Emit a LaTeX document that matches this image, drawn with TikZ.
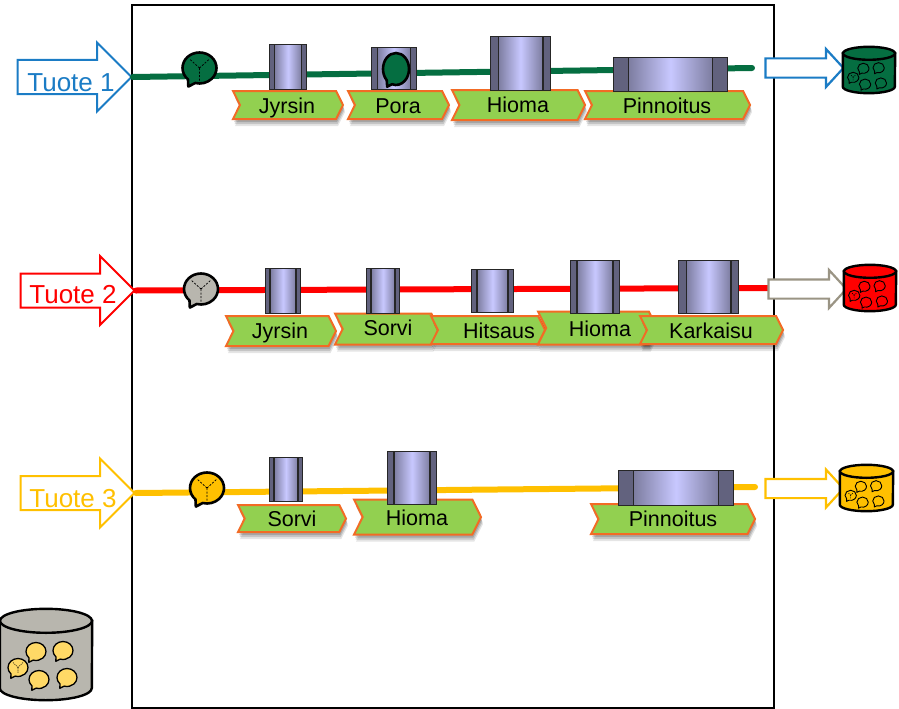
\documentclass[tikz,border=0pt]{standalone}
\usepackage{fontspec}
\setmainfont{Liberation Sans}
\usetikzlibrary{shapes.arrows,shapes.symbols,shapes.callouts,shadows,calc}
\definecolor{tgreen}{HTML}{056E41}
\definecolor{tred}{HTML}{FF0000}
\definecolor{tamber}{HTML}{FFC000}
\definecolor{tblue}{HTML}{1B7CC5}
\definecolor{tgrey}{HTML}{B8B6AE}
\definecolor{tbrown}{HTML}{9A9484}
\definecolor{bubbley}{HTML}{FFD966}
\definecolor{barcol}{HTML}{62627E}
\definecolor{bodycol}{HTML}{C8C8FF}
\definecolor{labelcol}{HTML}{92D050}
\definecolor{labeledge}{HTML}{F26B25}
\tikzset{
  inarrow/.style={single arrow,draw=#1,fill=white,line width=2,inner xsep=0,inner ysep=16,
    minimum height=114,single arrow head extend=17.5,
    single arrow tip angle=90},
  outarrow/.style={single arrow,draw=#1,fill=white,line width=2.2,inner xsep=0,inner ysep=8.5,
    minimum height=78,single arrow head extend=9.5,
    single arrow tip angle=95},
  arrowtext/.style={font=\fontsize{26}{28}\selectfont,inner sep=0,text=#1},
  prodline/.style={draw=#1,line width=6,line cap=round},
  machine/.style 2 args={draw=black!85,line width=1.6,inner sep=0,outer sep=0,
    minimum width=#1-1,minimum height=#2-1,
    left color=barcol,right color=barcol,middle color=bodycol},
  barline/.style={draw=black!85,line width=1.6,fill=barcol},
  worklabel/.style 2 args={signal,signal from=west,signal to=east,signal pointer angle=127,
    draw=labeledge,fill=labelcol,line width=2,inner sep=0,minimum width=#1,minimum height=#2,
    drop shadow={shadow xshift=1pt,shadow yshift=-3pt,opacity=.16,fill=black},
    drop shadow={shadow xshift=1.5pt,shadow yshift=-5pt,opacity=.14,fill=black},
    drop shadow={shadow xshift=2pt,shadow yshift=-7pt,opacity=.10,fill=black}},
  labeltext/.style={font=\fontsize{21.5}{24}\selectfont,inner sep=0,text height=15.5,text depth=0},
  bubble/.style={ellipse callout,draw=black,line width=2.6,line join=round,inner sep=0,
    callout pointer arc=28,fill=#1},
  smallbub/.style={ellipse callout,draw=black,line join=round,inner sep=0,
    callout pointer arc=28,fill=#1},
  storeline/.style={draw=black,line width=2.4,fill=#1},
  ydash/.style={dash pattern=on 2pt off 1.5pt,line width=.8}
}
\begin{document}
\begin{tikzpicture}[x=1pt,y=-1pt]
\useasboundingbox (0,0) rectangle (899,709);
\draw[line width=2] (132,5) rectangle (774,708);

%%%%%%%%%%%%%%%%% products in and out %%%%%%%%%%%%%%%%%%%
\foreach \n/\col/\x/\y/\tx/\ty/\ox/\oy in
   {1/tblue/66/77/71/83/800/68,
    2/tred/69/290.5/73/295/803/289,
    3/tamber/69/493/73/499/800/488.5}
 {\node[inarrow=\col] (in\n) at (\x,\y) {};
  \node[arrowtext=\col] (tuote\n) at (\tx,\ty) {Tuote \n};
  \coordinate (end\n) at (\ox,\oy);}

% lines first, everything else sits on them
\coordinate (stop1) at (752,68);
\coordinate (stop2) at (770,288);
\coordinate (stop3) at (755,487);
\foreach \n/\col in {1/tgreen,2/tred,3/tamber}
 {\draw[prodline=\col] (in\n.tip) -- (stop\n);}

\foreach \n/\col in {1/tblue,2/tbrown,3/tamber}
 {\node[outarrow=\col] (out\n) at (end\n) {};}

%%%%%%%%%%%%%%%%% work labels %%%%%%%%%%%%%%%%%%%%%%%
% x y w h, text x y, name
\foreach \x/\y/\w/\h/\tx/\ty/\name [count=\n] in
   {288/105/110/28/287/106/Jyrsin,398.5/105/101/28/398/106/Pora,
    518.5/105/133/30/518/105/Hioma,667.5/105/165/28/667/106/Pinnoitus,
    281/331/110/30/280/331/Jyrsin,387/329/104/31/388/328/Sorvi,
    488/330/114/28/499/331/Hitsaus,597.5/328/119/33/600/329/Hioma,
    711.5/330/143/28/711/331/Karkaisu,
    292/518.5/108/27/292/519/Sorvi,417.5/517/127/35/417/518/Hioma,
    673/519/164/30/673/519/Pinnoitus}
 {\node[worklabel={\w}{\h}] (lab\n) at (\x,\y) {};
  \node[labeltext] (labtxt\n) at (\tx,\ty) {\name};}

%%%%%%%%%%%%%%%%% machines %%%%%%%%%%%%%%%%%%%%%%%
\foreach \x/\y/\w/\h [count=\n] in
   {288/67/38/46,394/68.5/46/43,520.5/63.5/61/55,670.5/74.5/115/35,
    283/291/36/46,383/291/34/46,492.5/291/43/44,595/287/50/54,708.5/287/61/54,
    286/479.5/34/45,412/478/50/54,676/488/116/36}
 {\node[machine={\w}{\h}] (mach\n) at (\x,\y) {};
  \draw[barline] (mach\n.south west) rectangle
     ($(mach\n.north west)!.13!(mach\n.north east)$);
  \draw[barline] (mach\n.south east) rectangle
     ($(mach\n.north east)!.13!(mach\n.north west)$);}

%%%%%%%%%%%%%%%%% speech bubbles on the lines %%%%%%%%%%%%%%%%%%%
\foreach \n/\col/\x/\y in {1/tgreen/199.5/68,2/tgrey/201/289,3/tamber/207/488}
 {\node[bubble=\col,minimum width=34,minimum height=31,
        callout relative pointer={(-3,5)}] (bub\n) at (\x,\y) {};
  \draw[ydash] (bub\n.center) -- +(-10,-9) (bub\n.center) -- +(10,-9) (bub\n.center) -- +(0,14);}
\node[bubble=tgreen,minimum width=26,minimum height=32,
      callout relative pointer={(-2,4)}] (bubpora) at (396,69) {};

%%%%%%%%%%%%%%%%% stores %%%%%%%%%%%%%%%%%%%%%%%
\foreach \n/\col/\x/\y/\w/\h/\s/\fcol/\ry in
   {1/tgreen/869/70/52/46/.565/tgreen/6.5,
    2/tred/870/288/52/46/.565/tred/6.5,
    3/tamber/866.5/488/53/46/.565/tamber/6.5,
    4/tgrey/46/654.5/92/91/1/bubbley/12}
 {\node[minimum width=\w,minimum height=\h,inner sep=0] (store\n) at (\x,\y) {};
  \draw[storeline=\col] ([yshift=-\ry pt]store\n.north west) --
     ([yshift=\ry pt]store\n.south west)
     arc[start angle=180,end angle=360,x radius=\w*.5pt,y radius=\ry pt] --
     ([yshift=-\ry pt]store\n.north east) -- cycle;
  \draw[storeline=\col] ([yshift=-\ry pt]store\n.north) ellipse[x radius=\w*.5pt,y radius=\ry pt];
  \foreach \dx/\dy [count=\k] in {-28/13,-10/-3,17/-4,-7/25,21/23}
   {\node[smallbub=\fcol,line width=.4+.9*\s,minimum width=\s*20,minimum height=\s*18,
          callout relative pointer={(-2*\s,3*\s)}]
      (st\n-\k) at ([shift={(\s*\dx,\s*\dy)}]store\n.center) {};}
  \draw[ydash,line width=.6,dash pattern=on 1pt off 1pt]
     (st\n-1.center) -- +(-5*\s,-5*\s) (st\n-1.center) -- +(5*\s,-5*\s) (st\n-1.center) -- +(0,6*\s);}
\end{tikzpicture}
\end{document}
